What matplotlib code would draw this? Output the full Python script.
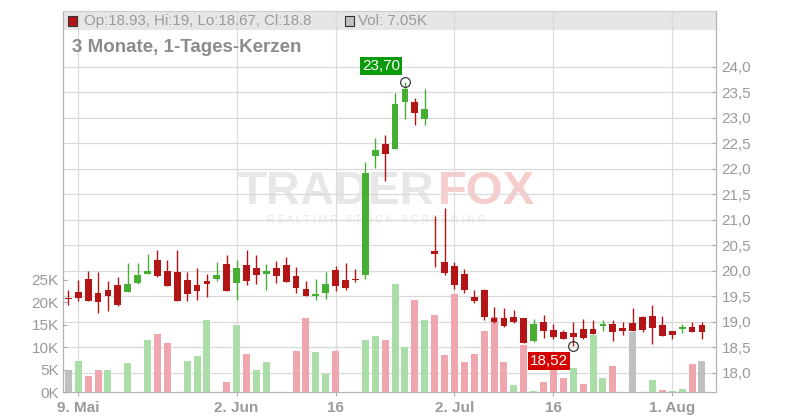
import matplotlib.pyplot as plt
from matplotlib.patches import Rectangle
from matplotlib.ticker import FuncFormatter

plt.rcParams['font.family'] = ['Liberation Sans', 'DejaVu Sans']

# Tageskerzen, 8. Mai bis 6. Aug (Handelstage)
opens = [19.45, 19.59, 19.84, 19.57, 19.62, 19.72, 19.59, 19.76, 19.94, 20.21,
         20.00, 19.98, 19.82, 19.72, 19.80, 19.84, 20.13, 19.76, 20.11, 20.06,
         19.94, 20.06, 20.11, 19.90, 19.64, 19.51, 19.57, 20.02, 19.81, 19.84,
         19.91, 22.24, 22.49, 22.39, 23.30, 23.31, 22.98, 20.39, 20.17, 20.10,
         19.93, 19.49, 19.63, 19.08, 19.08, 19.10, 19.08, 18.63, 19.00, 18.84,
         18.80, 18.78, 18.86, 18.86, 18.92, 18.96, 18.88, 18.98, 19.10, 19.12,
         18.94, 18.82, 18.86, 18.90, 18.93]
highs = [19.62, 19.81, 20.00, 19.98, 19.80, 19.88, 20.15, 20.15, 20.33, 20.41,
         20.21, 20.41, 19.98, 20.06, 19.94, 20.17, 20.31, 20.21, 20.41, 20.31,
         20.13, 20.19, 20.27, 20.08, 19.80, 19.84, 19.98, 20.09, 20.16, 20.04,
         22.13, 22.60, 22.66, 23.49, 23.70, 23.39, 23.57, 21.08, 21.23, 20.17,
         20.03, 19.63, 19.65, 19.28, 19.26, 19.22, 19.08, 19.06, 19.14, 18.96,
         18.84, 19.00, 19.06, 19.04, 19.04, 19.04, 19.00, 19.27, 19.12, 19.33,
         19.12, 18.82, 18.96, 19.00, 19.00]
lows = [19.33, 19.41, 19.41, 19.18, 19.20, 19.31, 19.59, 19.74, 19.93, 19.88,
        19.70, 19.41, 19.41, 19.43, 19.49, 19.79, 19.60, 19.43, 19.72, 19.74,
        19.62, 19.76, 19.78, 19.57, 19.51, 19.43, 19.45, 19.60, 19.62, 19.77,
        19.83, 22.02, 21.75, 22.39, 22.98, 22.86, 22.85, 20.08, 19.92, 19.65,
        19.56, 19.36, 19.04, 18.98, 18.90, 18.98, 18.59, 18.61, 18.68, 18.66,
        18.66, 18.52, 18.66, 18.75, 18.81, 18.63, 18.73, 18.81, 18.79, 18.57,
        18.71, 18.67, 18.77, 18.79, 18.67]
closes = [19.44, 19.47, 19.41, 19.39, 19.51, 19.33, 19.74, 19.92, 20.00, 19.90,
          19.70, 19.41, 19.55, 19.60, 19.74, 19.92, 19.60, 20.06, 19.80, 19.92,
          20.00, 19.90, 19.78, 19.66, 19.51, 19.55, 19.74, 19.70, 19.66, 19.81,
          21.91, 22.37, 22.29, 23.27, 23.57, 23.09, 23.17, 20.32, 19.96, 19.71,
          19.62, 19.41, 19.10, 19.00, 18.92, 19.00, 18.59, 18.96, 18.82, 18.70,
          18.66, 18.70, 18.68, 18.75, 18.94, 18.79, 18.81, 18.81, 18.84, 18.88,
          18.71, 18.73, 18.90, 18.80, 18.80]
# Volumen in Tausend
volumes = [5.0, 7.0, 3.6, 5.0, 5.0, 0, 6.5, 0, 11.6, 13.0,
           11.0, 0, 7.0, 8.1, 16.1, 0, 2.3, 15.0, 8.5, 5.0,
           6.7, 0, 0, 9.2, 16.5, 9.0, 4.1, 9.2, 0, 0,
           11.6, 12.5, 11.6, 24.1, 10.1, 20.5, 16.1, 17.2, 8.3, 21.9,
           6.7, 8.5, 13.6, 16.7, 6.7, 1.6, 10.5, 0.3, 2.3, 6.3,
           3.2, 5.4, 1.9, 12.7, 3.2, 5.9, 0, 13.4, 0, 2.7,
           0.5, 0.3, 0.7, 6.3, 7.05]
# g = hoeher, r = tiefer, n = unveraendert, - = kein Umsatz
vol_dir = list("ngrrg-g-gr" "r-ggg-rgrg" "g--rrggr--" "ggrggrgrrr"
               "rrrrrgrgrr" "rgrggr-n-g" "rggrn")

date_ticks = [1, 17, 27, 39, 49, 61]
date_labels = ['9. Mai', '2. Jun', '16', '2. Jul', '16', '1. Aug']
price_ticks = [18.0, 18.5, 19.0, 19.5, 20.0, 20.5, 21.0, 21.5, 22.0, 22.5, 23.0, 23.5, 24.0]
vol_ticks = [0, 5, 10, 15, 20, 25]

red = '#b31516'
green = '#47ae34'
vol_colors = {'g': '#abdda9', 'r': '#efa6ae', 'n': '#c0c0c0', '-': '#c0c0c0'}
grid_c = '#dadada'
text_c = '#9a9a9a'

x = list(range(len(opens)))

fig = plt.figure(figsize=(8, 4.2), dpi=100)
pos = [63 / 800, 27.7 / 420, 653 / 800, 380.8 / 420]

# base axes: price grid + right labels
ax_p = fig.add_axes(pos)
ax_p.set_xlim(-0.54, 65.42)
ax_p.set_ylim(17.616, 25.08)
ax_p.yaxis.tick_right()
ax_p.set_yticks(price_ticks)
ax_p.yaxis.set_major_formatter(FuncFormatter(lambda v, p: f"{v:.1f}".replace('.', ',')))
ax_p.set_xticks(date_ticks)
ax_p.set_xticklabels(date_labels, fontweight='bold')
ax_p.tick_params(axis='y', direction='in', length=3, width=0.8, color='#aaaaaa',
                 labelcolor=text_c, labelsize=11, pad=4)
ax_p.tick_params(axis='x', direction='out', length=3, width=0.8, color='#aaaaaa',
                 labelcolor=text_c, labelsize=11, pad=3)
ax_p.grid(True, color=grid_c, linewidth=0.9)
ax_p.set_axisbelow('line')
for s in ['left', 'right', 'bottom']:
    ax_p.spines[s].set_color('#b4b4b4')
    ax_p.spines[s].set_linewidth(0.9)
ax_p.spines['top'].set_color('#cccccc')
ax_p.spines['top'].set_linewidth(0.8)

# header strip
hdr_h = 18.5 / 380.8
ax_p.add_patch(Rectangle((0, 1 - hdr_h), 1, hdr_h, transform=ax_p.transAxes,
                         facecolor='#e6e6e6', edgecolor='none', zorder=0.2))

# watermark
ax_p.text(0.569, 0.526, 'TRADER', transform=ax_p.transAxes, ha='right', va='center',
          fontsize=34, fontweight='bold', color='#e7e7e7', zorder=0.3)
ax_p.text(0.574, 0.526, 'FOX', transform=ax_p.transAxes, ha='left', va='center',
          fontsize=34, fontweight='bold', color='#f6cdcd', zorder=0.3)
ax_p.text(0.48, 0.452, 'R E A L T I M E   S T O C K   S C R E E N I N G', transform=ax_p.transAxes,
          ha='center', va='center', fontsize=7.5, color='#e7e7e7', zorder=0.3)

# volume axes
ax_v = fig.add_axes(pos, sharex=ax_p)
ax_v.patch.set_visible(False)
ax_v.set_ylim(0, 380.8 / 4.5)
ax_v.bar(x, volumes, width=0.7, color=[vol_colors[d] for d in vol_dir], zorder=2)
ax_v.set_yticks(vol_ticks)
ax_v.set_yticklabels([f"{v}K" for v in vol_ticks])
ax_v.tick_params(axis='y', direction='in', length=3, width=0.8, color='#aaaaaa',
                 labelcolor=text_c, labelsize=11, pad=3)
ax_v.xaxis.set_visible(False)
for s in ax_v.spines.values():
    s.set_visible(False)

# candle axes
ax_c = fig.add_axes(pos, sharex=ax_p, sharey=ax_p)
ax_c.patch.set_visible(False)
ax_c.axis('off')
cols = [green if c > o else red for o, c in zip(opens, closes)]
ax_c.vlines(x, lows, highs, colors=cols, linewidth=1.0, zorder=2)
ax_c.bar(x, [max(abs(c - o), 0.03) for o, c in zip(opens, closes)],
         bottom=[min(o, c) for o, c in zip(opens, closes)],
         width=0.68, color=cols, zorder=3)

# high / low markers
i_hi = highs.index(max(highs))
i_lo = lows.index(min(lows))
ax_c.plot([i_hi, i_lo], [highs[i_hi], lows[i_lo]], 'o', mfc='none', mec='#222222',
          ms=7, mew=0.8, zorder=4)
ax_c.annotate(f"{highs[i_hi]:.2f}".replace('.', ','), xy=(i_hi, highs[i_hi]),
              xytext=(-5, 9), textcoords='offset pixels', ha='right', va='bottom',
              color='white', fontsize=11,
              bbox=dict(boxstyle='square,pad=0.12', fc='#0a9a0a', ec='none'), zorder=5)
ax_c.annotate(f"{lows[i_lo]:.2f}".replace('.', ','), xy=(i_lo, lows[i_lo]),
              xytext=(-5, -8), textcoords='offset pixels', ha='right', va='top',
              color='white', fontsize=11,
              bbox=dict(boxstyle='square,pad=0.12', fc='#d40000', ec='none'), zorder=5)

# header text
fig.patches.append(Rectangle((68 / 800, 1 - 26 / 420), 9 / 800, 10 / 420, transform=fig.transFigure,
                             facecolor=red, edgecolor='#333333', linewidth=0.8))
fig.text(84 / 800, 1 - 21 / 420,
         f"Op:{opens[-1]:g}, Hi:{highs[-1]:g}, Lo:{lows[-1]:g}, Cl:{closes[-1]:g}",
         va='center', ha='left', fontsize=10.8, color=text_c)
fig.patches.append(Rectangle((345 / 800, 1 - 26 / 420), 9 / 800, 10 / 420, transform=fig.transFigure,
                             facecolor='#c0c0c0', edgecolor='#333333', linewidth=0.8))
fig.text(358 / 800, 1 - 21 / 420, f"Vol: {volumes[-1]:g}K",
         va='center', ha='left', fontsize=11, color=text_c)
fig.text(72 / 800, 1 - 47 / 420, '3 Monate, 1-Tages-Kerzen', va='center', ha='left',
         fontsize=13.5, fontweight='bold', color='#8c8c8c')

fig.savefig('out.png', dpi=100)
